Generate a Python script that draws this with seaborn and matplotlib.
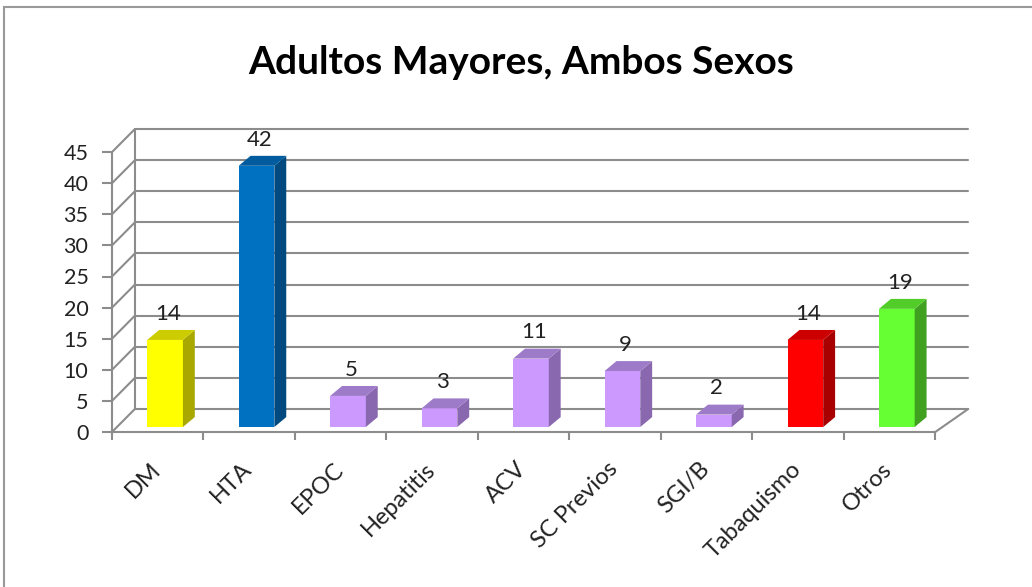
import matplotlib
matplotlib.use('Agg')
import matplotlib.pyplot as plt
import seaborn as sns
from matplotlib.patches import Polygon, Rectangle
from matplotlib.transforms import ScaledTranslation

categories = ['DM', 'HTA', 'EPOC', 'Hepatitis', 'ACV', 'SC Previos', 'SGI/B', 'Tabaquismo', 'Otros']
values = [14, 42, 5, 3, 11, 9, 2, 14, 19]
front_colors = ['#FFFF00', '#0070C0', '#CC99FF', '#CC99FF', '#CC99FF', '#CC99FF', '#CC99FF', '#FF0000', '#66FF33']
side_colors = ['#A8A800', '#004A80', '#8A68B0', '#8A68B0', '#8A68B0', '#8A68B0', '#8A68B0', '#A80000', '#40A020']
top_colors = ['#CCCC00', '#005C9E', '#9E7BC8', '#9E7BC8', '#9E7BC8', '#9E7BC8', '#9E7BC8', '#CC0000', '#52CC28']
y_ticks = [0, 5, 10, 15, 20, 25, 30, 35, 40, 45]

sns.set_theme(style='white')
plt.rcParams['font.family'] = ['Lato', 'DejaVu Sans']

W, H = 1032, 587
fig = plt.figure(figsize=(W / 100, H / 100), dpi=100)
# axes placed so the front plane lines up with the reference (pixels)
x0, x1, y0, y1 = 112, 981, 432, 121
ax = fig.add_axes([x0 / W, (H - y0) / H, (x1 - x0) / W, (y0 - y1) / H])

grid_c = '#8C8C8C'
gdx, gdy = 0.25, 3.7      # depth of the back wall
bdx, bdy = 0.08, 0.8      # bars sit a little behind the front plane
sdx, sdy = 0.13, 1.6      # bar depth
x_right = 8.86

sns.barplot(x=categories, y=values, hue=categories, palette=front_colors,
            saturation=1, width=0.39, legend=False, ax=ax, zorder=3)
ax.set_xlim(-0.5, 9.0)
ax.set_ylim(0, 50)

# walls / gridlines
for v in y_ticks:
    ax.plot([-0.5, -0.5 + gdx], [v, v + gdy], color=grid_c, lw=1.5, zorder=1)
    ax.plot([-0.5 + gdx, x_right], [v + gdy, v + gdy], color=grid_c, lw=1.5, zorder=1)
ax.plot([-0.5 + gdx, -0.5 + gdx], [gdy, 45 + gdy], color=grid_c, lw=1.5, zorder=1)
ax.plot([8.5, x_right], [0, gdy], color=grid_c, lw=1.5, zorder=1, clip_on=False)

for p, v, sc, tc in zip(ax.patches, values, side_colors, top_colors):
    p.set_x(p.get_x() + bdx)
    p.set_y(bdy)
    p.set_linewidth(0)
    px0 = p.get_x()
    px1 = px0 + p.get_width()
    top = bdy + v
    ax.add_patch(Polygon([(px1, bdy), (px1 + sdx, bdy + sdy), (px1 + sdx, top + sdy), (px1, top)],
                         closed=True, facecolor=sc, edgecolor='none', zorder=3))
    ax.add_patch(Polygon([(px0, top), (px0 + sdx, top + sdy), (px1 + sdx, top + sdy), (px1, top)],
                         closed=True, facecolor=tc, edgecolor='none', zorder=3))
    ax.text((px0 + px1) / 2 + 0.03, top + sdy + 1.0, str(v), ha='center', va='bottom',
            fontsize=16, color='#222222', zorder=4)

for s in ['top', 'right']:
    ax.spines[s].set_visible(False)
for s in ['left', 'bottom']:
    ax.spines[s].set_color(grid_c)
    ax.spines[s].set_linewidth(1.5)
ax.spines['left'].set_bounds(0, 45)
ax.spines['bottom'].set_bounds(-0.5, 8.5)

ax.set_yticks(y_ticks)
ax.set_yticklabels([str(t) for t in y_ticks], fontsize=15.5, color='#222222')
ax.tick_params(axis='y', length=7, width=1.5, color=grid_c, pad=10, left=True)

ax.set_xticks(range(len(categories)))
ax.set_xticklabels(categories, rotation=45, ha='right', rotation_mode='anchor',
                   fontsize=17, color='#222222')
ax.set_xticks([i - 0.5 for i in range(len(categories) + 1)], minor=True)
ax.tick_params(axis='x', which='major', length=0, pad=19)
ax.tick_params(axis='x', which='minor', length=6, width=1.5, color=grid_c, bottom=True)
shift = ScaledTranslation(-8 / 100, 0, fig.dpi_scale_trans)
for lab in ax.get_xticklabels():
    lab.set_transform(lab.get_transform() + shift)
ax.set_xlabel('')
ax.set_ylabel('')
ax.set_facecolor('none')

fig.text(0.505, 1 - 62 / H, 'Adultos Mayores, Ambos Sexos', ha='center', va='center',
         fontsize=28, fontweight='bold', color='black')

fig.patches.append(Rectangle((4 / W, -0.01), 1.02, 1 - 7 / H + 0.01, transform=fig.transFigure,
                             fill=False, edgecolor='#999999', lw=1.5, zorder=0))

fig.savefig('out.png', dpi=100)
